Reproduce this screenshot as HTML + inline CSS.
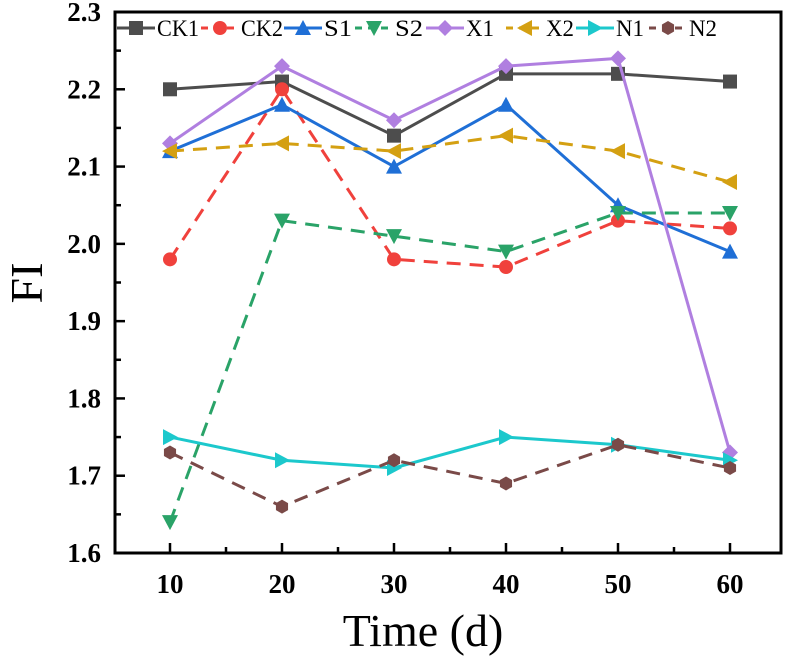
<!DOCTYPE html>
<html><head><meta charset="utf-8"><style>
body{margin:0;background:#fff}
svg{display:block}
text{font-family:"Liberation Serif",serif}
</style></head><body>
<svg id="chart" width="787" height="659" xmlns="http://www.w3.org/2000/svg"></svg>
<script>
const categories=[10,20,30,40,50,60];
const seriesNames=["CK1","CK2","S1","S2","X1","X2","N1","N2"];
const CK1=[2.20,2.21,2.14,2.22,2.22,2.21];
const CK2=[1.98,2.20,1.98,1.97,2.03,2.02];
const S1=[2.12,2.18,2.10,2.18,2.05,1.99];
const S2=[1.64,2.03,2.01,1.99,2.04,2.04];
const X1=[2.13,2.23,2.16,2.23,2.24,1.73];
const X2=[2.12,2.13,2.12,2.14,2.12,2.08];
const N1=[1.75,1.72,1.71,1.75,1.74,1.72];
const N2=[1.73,1.66,1.72,1.69,1.74,1.71];
const yTicks=["1.6","1.7","1.8","1.9","2.0","2.1","2.2","2.3"];
const xTicks=["10","20","30","40","50","60"];
const seriesData=[CK1,CK2,S1,S2,X1,X2,N1,N2];
const colors=["#4d4d4d","#f0413c","#1f6fd6","#2aa368","#b07fe0","#d4a012","#1cc8cc","#7a4a48"];
const dashed=[false,true,false,true,false,true,false,true];
const markers=["square","circle","tri-up","tri-down","diamond","tri-left","tri-right","hex"];
const svg=document.getElementById('chart');
const NS="http://www.w3.org/2000/svg";
const L=115,R=781,T=12,B=553;
const x=v=>170+(v-10)*11.2;
const y=v=>B-(v-1.6)/0.7*(B-T);
function mk(tag,attrs,parent){const e=document.createElementNS(NS,tag);for(const k in attrs)e.setAttribute(k,attrs[k]);(parent||svg).appendChild(e);return e;}
function marker(type,cx,cy,c,g){const s=7;let e;
 if(type==="square")e=mk('rect',{x:cx-s,y:cy-s,width:2*s,height:2*s,fill:c},g);
 else if(type==="circle")e=mk('circle',{cx:cx,cy:cy,r:s,fill:c},g);
 else{let p;
  if(type==="tri-up")p=[[0,-s-1],[s+1,s],[-s-1,s]];
  else if(type==="tri-down")p=[[0,s+1],[s+1,-s],[-s-1,-s]];
  else if(type==="tri-left")p=[[-s-1,0],[s,-s-1],[s,s+1]];
  else if(type==="tri-right")p=[[s+1,0],[-s,-s-1],[-s,s+1]];
  else if(type==="diamond")p=[[0,-s-1],[s+1,0],[0,s+1],[-s-1,0]];
  else{p=[];for(let i=0;i<6;i++){const a=Math.PI/3*i+Math.PI/6;p.push([s*Math.cos(a),s*Math.sin(a)]);}}
  e=mk('polygon',{points:p.map(q=>(cx+q[0])+","+(cy+q[1])).join(" "),fill:c},g);}
 return e;}
const frame=mk('rect',{x:L,y:T,width:R-L,height:B-T,fill:"none",stroke:"#000","stroke-width":3});


yTicks.forEach((t,i)=>{const v=parseFloat(t);const yy=y(v);
 mk('line',{x1:L,x2:L+10,y1:yy,y2:yy,stroke:"#000","stroke-width":2.5});
 if(i<yTicks.length-1){const ym=y(v+0.05);mk('line',{x1:L,x2:L+6,y1:ym,y2:ym,stroke:"#000","stroke-width":2.5});}
 const tx=mk('text',{x:L-14,y:yy+9,"text-anchor":"end","font-size":27,"font-weight":"bold"});tx.textContent=t;
 
 
});
xTicks.forEach((t,i)=>{const v=parseFloat(t);const xx=x(v);
 mk('line',{x1:xx,x2:xx,y1:B,y2:B-10,stroke:"#000","stroke-width":2.5});
 [v-5,v+5].forEach(m=>{const xm=x(m);if(xm>L&&xm<R&&(m<v?i===0:true))mk('line',{x1:xm,x2:xm,y1:B,y2:B-6,stroke:"#000","stroke-width":2.5});});
 const tx=mk('text',{x:xx,y:B+40,"text-anchor":"middle","font-size":27,"font-weight":"bold"});tx.textContent=t;
 
 
});
const xt=mk('text',{x:(L+R)/2-25,y:646,"text-anchor":"middle","font-size":46});xt.textContent="Time (d)";


const yt=mk('text',{x:0,y:0,"text-anchor":"middle","font-size":46,transform:"translate(42,283) rotate(-90)"});yt.textContent="FI";


seriesData.forEach((d,si)=>{
 const g=mk('g',{});
 
 
 const pts=d.map((v,i)=>x(categories[i])+","+y(v)).join(" ");
 const pl=mk('polyline',{points:pts,fill:"none",stroke:colors[si],"stroke-width":3,"stroke-dasharray":dashed[si]?"14 9":"none"},g);
 
 
 d.forEach((v,i)=>{const m=marker(markers[si],x(categories[i]),y(v),colors[si],g);
  
  });
});
const legX=[117,201,284,355,426,506,576,649];
seriesNames.forEach((n,i)=>{const g=mk('g',{});
 
 
 const lx=legX[i],ly=28;
 mk('line',{x1:lx,x2:lx+38,y1:ly,y2:ly,stroke:colors[i],"stroke-width":3,"stroke-dasharray":dashed[i]?"7 6":"none"},g);
 marker(markers[i],lx+19,ly,colors[i],g);
 const t=mk('text',{x:lx+40,y:ly+8,"font-size":23,"textLength":n.length>2?42:28,"lengthAdjust":"spacingAndGlyphs"},g);t.textContent=n;
});
</script>
</body></html>
